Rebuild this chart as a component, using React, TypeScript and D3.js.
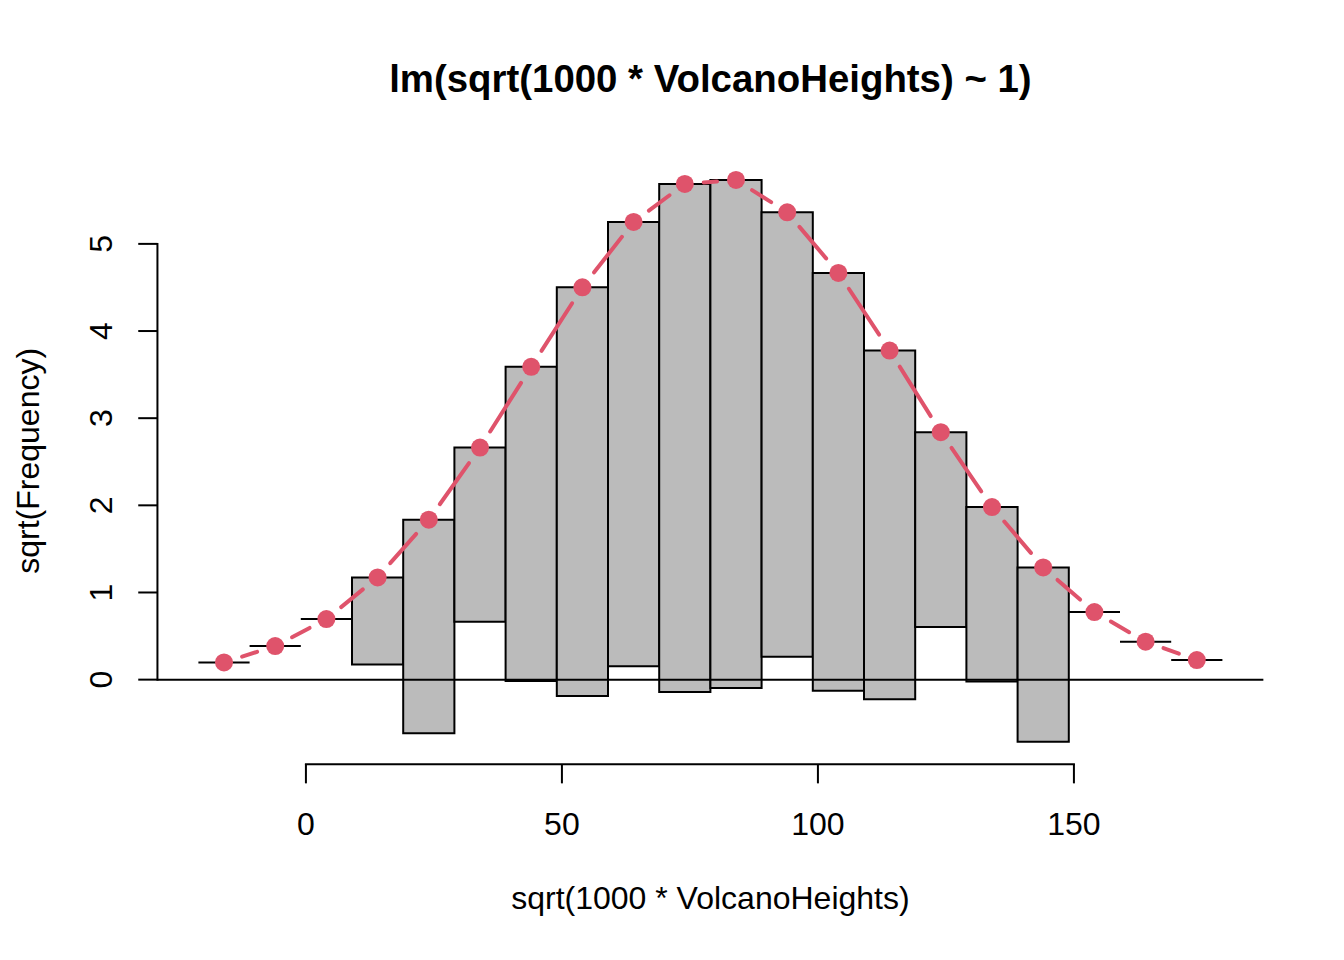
import React from "react";
import * as d3 from "d3";

// Bin edges (sqrt(1000 * VolcanoHeights)), width 10
const binStarts = [-21, -11, -1, 9, 19, 29, 39, 49, 59, 69, 79, 89, 99, 109, 119, 129, 139, 149, 159, 169];
const binWidth = 10;
// Observed frequencies per bin
const observed = [0, 0, 0, 1, 6, 4, 13, 22, 26, 34, 34, 26, 23, 16, 5, 4, 4, 0, 0, 0];
// Expected sqrt(frequency) from fitted normal
const expectedSqrt = [0.198, 0.385, 0.695, 1.173, 1.835, 2.663, 3.589, 4.502, 5.252, 5.688, 5.734, 5.362, 4.667, 3.776, 2.839, 1.98, 1.288, 0.775, 0.436, 0.225];

const xTicks = [0, 50, 100, 150];
const yTicks = [0, 1, 2, 3, 4, 5];

const titleText = "lm(sqrt(1000 * VolcanoHeights) ~ 1)";
const xLabel = "sqrt(1000 * VolcanoHeights)";
const yLabel = "sqrt(Frequency)";

const W = 1344;
const H = 960;
const LINE = 38.4;
const plotLeft = 4.1 * LINE;
const plotRight = W - 2.1 * LINE;
const plotTop = 4.1 * LINE;
const plotBottom = H - 5.1 * LINE;
const FONT = "'Liberation Sans', Arial, Helvetica, sans-serif";
const RED = "#DF536B";

export default function App() {
  const xMin = d3.min(binStarts)!;
  const xMax = d3.max(binStarts)! + binWidth;
  const xPad = 0.04 * (xMax - xMin);
  const x = d3.scaleLinear().domain([xMin - xPad, xMax + xPad]).range([plotLeft, plotRight]);

  const bottoms = expectedSqrt.map((e, i) => e - Math.sqrt(observed[i]));
  const yLo = Math.min(0, d3.min(bottoms)!);
  const yHi = d3.max(expectedSqrt)!;
  const yPad = 0.04 * (yHi - yLo);
  const y = d3.scaleLinear().domain([yLo - yPad, yHi + yPad]).range([plotBottom, plotTop]);

  const pts = binStarts.map((b, i) => [x(b + binWidth / 2), y(expectedSqrt[i])] as [number, number]);
  const gap = 19;
  const segs = pts.slice(1).map((p, i) => {
    const q = pts[i];
    const dx = p[0] - q[0];
    const dy = p[1] - q[1];
    const len = Math.sqrt(dx * dx + dy * dy);
    if (len <= 2 * gap) return null;
    const ux = dx / len;
    const uy = dy / len;
    return [q[0] + ux * gap, q[1] + uy * gap, p[0] - ux * gap, p[1] - uy * gap];
  });

  const tickLen = 0.5 * LINE;

  return (
    <svg width={W} height={H} style={{ position: "absolute", left: 0, top: 0, background: "#fff" }} fontFamily={FONT}>
      <rect x={0} y={0} width={W} height={H} fill="#fff" />
      {/* Hanging bars */}
      {binStarts.map((b, i) => {
        const x0 = x(b);
        const x1 = x(b + binWidth);
        const yt = y(expectedSqrt[i]);
        const yb = y(bottoms[i]);
        return (
          <path
            key={"bar" + i}
            d={`M${x0},${yt}H${x1}V${yb}H${x0}Z`}
            fill="#BBBBBB"
            stroke="#000"
            strokeWidth={2}
          />
        );
      })}
      {/* zero reference line */}
      <line x1={plotLeft} x2={plotRight} y1={y(0)} y2={y(0)} stroke="#000" strokeWidth={2} />
      {/* expected line with gaps (type = "b") */}
      {segs.map((s, i) =>
        s ? (
          <line key={"seg" + i} x1={s[0]} y1={s[1]} x2={s[2]} y2={s[3]} stroke={RED} strokeWidth={4} strokeLinecap="round" />
        ) : null
      )}
      {pts.map((p, i) => (
        <circle key={"pt" + i} cx={p[0]} cy={p[1]} r={9} fill={RED} />
      ))}
      {/* X axis */}
      <line x1={x(xTicks[0])} x2={x(xTicks[xTicks.length - 1])} y1={plotBottom} y2={plotBottom} stroke="#000" strokeWidth={2} strokeLinecap="square" />
      {xTicks.map((t) => (
        <g key={"xt" + t}>
          <line x1={x(t)} x2={x(t)} y1={plotBottom} y2={plotBottom + tickLen} stroke="#000" strokeWidth={2} />
          <text x={x(t)} y={835} fontSize={32} textAnchor="middle" fill="#000">
            {t}
          </text>
        </g>
      ))}
      {/* Y axis */}
      <line x1={plotLeft} x2={plotLeft} y1={y(yTicks[0])} y2={y(yTicks[yTicks.length - 1])} stroke="#000" strokeWidth={2} strokeLinecap="square" />
      {yTicks.map((t) => (
        <g key={"yt" + t}>
          <line x1={plotLeft} x2={plotLeft - tickLen} y1={y(t)} y2={y(t)} stroke="#000" strokeWidth={2} />
          <text
            transform={`translate(112,${y(t)}) rotate(-90)`}
            fontSize={32}
            textAnchor="middle"
            fill="#000"
          >
            {t}
          </text>
        </g>
      ))}
      {/* Labels */}
      <text x={(plotLeft + plotRight) / 2} y={92} fontSize={38.4} fontWeight="bold" textAnchor="middle" fill="#000">
        {titleText}
      </text>
      <text x={(plotLeft + plotRight) / 2} y={909} fontSize={32} textAnchor="middle" fill="#000">
        {xLabel}
      </text>
      <text
        transform={`translate(39,${(plotTop + plotBottom) / 2}) rotate(-90)`}
        fontSize={32}
        textAnchor="middle"
        fill="#000"
      >
        {yLabel}
      </text>
    </svg>
  );
}
